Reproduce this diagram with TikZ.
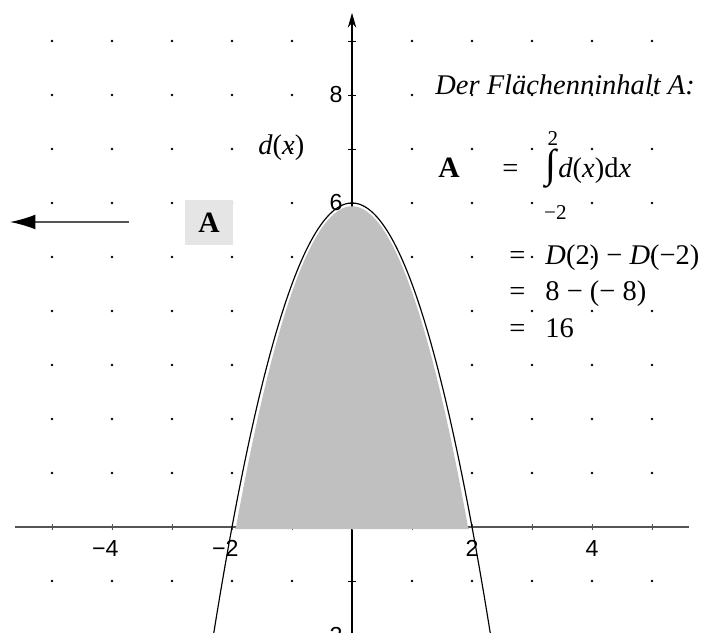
\documentclass[tikz,border=0pt]{standalone}
\usepackage{fontspec}
\setmainfont{Liberation Serif}
\newfontfamily\axisfont{Liberation Sans}
\usetikzlibrary{arrows.meta,positioning,calc}
\definecolor{areagrey}{RGB}{192,192,192}
\definecolor{boxgrey}{RGB}{229,229,229}
\definecolor{axisgrey}{RGB}{85,85,85}

\begin{document}
\begin{tikzpicture}[x=1cm,y=0.9cm,>=Stealth,
 ticklab/.style={font=\axisfont\fontsize{11}{11}\selectfont,inner sep=0pt},
 txt/.style={font=\fontsize{13.5}{14}\selectfont,inner sep=0pt,anchor=base west},
 limit/.style={font=\fontsize{10}{10}\selectfont,inner sep=0pt}]
 \useasboundingbox (-5.867,-1.963) rectangle (5.933,9.759);
 \clip (-5.867,-1.963) rectangle (5.933,9.759);
 % dot grid
 \foreach \i in {-5,...,5}
  \foreach \j in {-1,...,9}
   \fill (\i,\j) circle (0.65pt);
 % axes and ticks
 \draw[axisgrey,line width=0.8pt] (-5.62,0)--(5.62,0);
 \draw[line width=0.5pt,-{Stealth[length=7pt,width=4pt]}] (0,-2.1)--(0,9.52);
 \foreach \i in {-5,...,5} \draw[axisgrey] (\i,-0.06)--(\i,0.06);
 \foreach \j in {-1,1,2,...,9} \draw (-0.065,\j)--(0.065,\j);
 \foreach \i/\n/\s in {-4/m4/\llap{−}4,-2/m2/\llap{−}2,2/p2/2,4/p4/4}
  \node[ticklab] (x\n) at (\i,-0.39) {\s};
 \foreach \j/\n/\s in {8/p8/8,6/p6/6,-2/m2/\llap{−}2}
  \node[ticklab,anchor=east] (y\n) at (-0.15,\j) {\s};
 % area under d
 \fill[areagrey] (-1.95,-0.04) -- plot[domain=-1.933:1.933,samples=80] (\x,{5.94-1.59*\x*\x}) -- (1.95,-0.04) -- cycle;
 \draw[line width=0.55pt] plot[domain=-2.35:2.35,samples=120] (\x,{6-1.5*\x*\x});
 \node[txt] (dlab) at (-1.567,6.907) {\textit{d}(\textit{x})};
 % box and arrow on the left
 \node[fill=boxgrey,minimum width=0.8cm,minimum height=0.75cm,inner sep=0pt,
  font=\bfseries\fontsize{14}{14}\selectfont] (boxA) at (-2.383,5.63) {A};
 \coordinate (arrstart) at (-3.717,5.648);
 \coordinate (arrend) at (-5.70,5.648);
 \draw[axisgrey,line width=0.7pt,-{Latex[length=12pt,width=7pt,color=black]}] (arrstart)--(arrend);
 % the calculation
 \node[txt] (title) at (1.383,8) {\textit{Der Flächenninhalt A:}};
 \node[txt,font=\bfseries\fontsize{14}{14}\selectfont] (areaA) at (1.433,6.463) {A};
 \node[txt] (eq1) at (2.5,6.463) {=};
 \node[txt,font=\fontsize{19}{19}\selectfont] (intsign) at (3.217,6.463) {∫};
 \node[limit] (upper) at (3.35,7.20) {2};
 \node[limit] (lower) at (3.39,5.83) {−2};
 \node[txt] (integrand) at (3.433,6.463) {\textit{d}(\textit{x})d\textit{x}};
 \node[txt] (eq2) at (2.617,4.852) {=};
 \node[txt] (line2) at (3.217,4.852) {\textit{D}(2) − \textit{D}(−2)};
 \node[txt] (eq3) at (2.617,4.185) {=};
 \node[txt] (line3) at (3.217,4.185) {8 − (− 8)};
 \node[txt] (eq4) at (2.617,3.5) {=};
 \node[txt] (line4) at (3.217,3.5) {16};
\end{tikzpicture}
\end{document}
